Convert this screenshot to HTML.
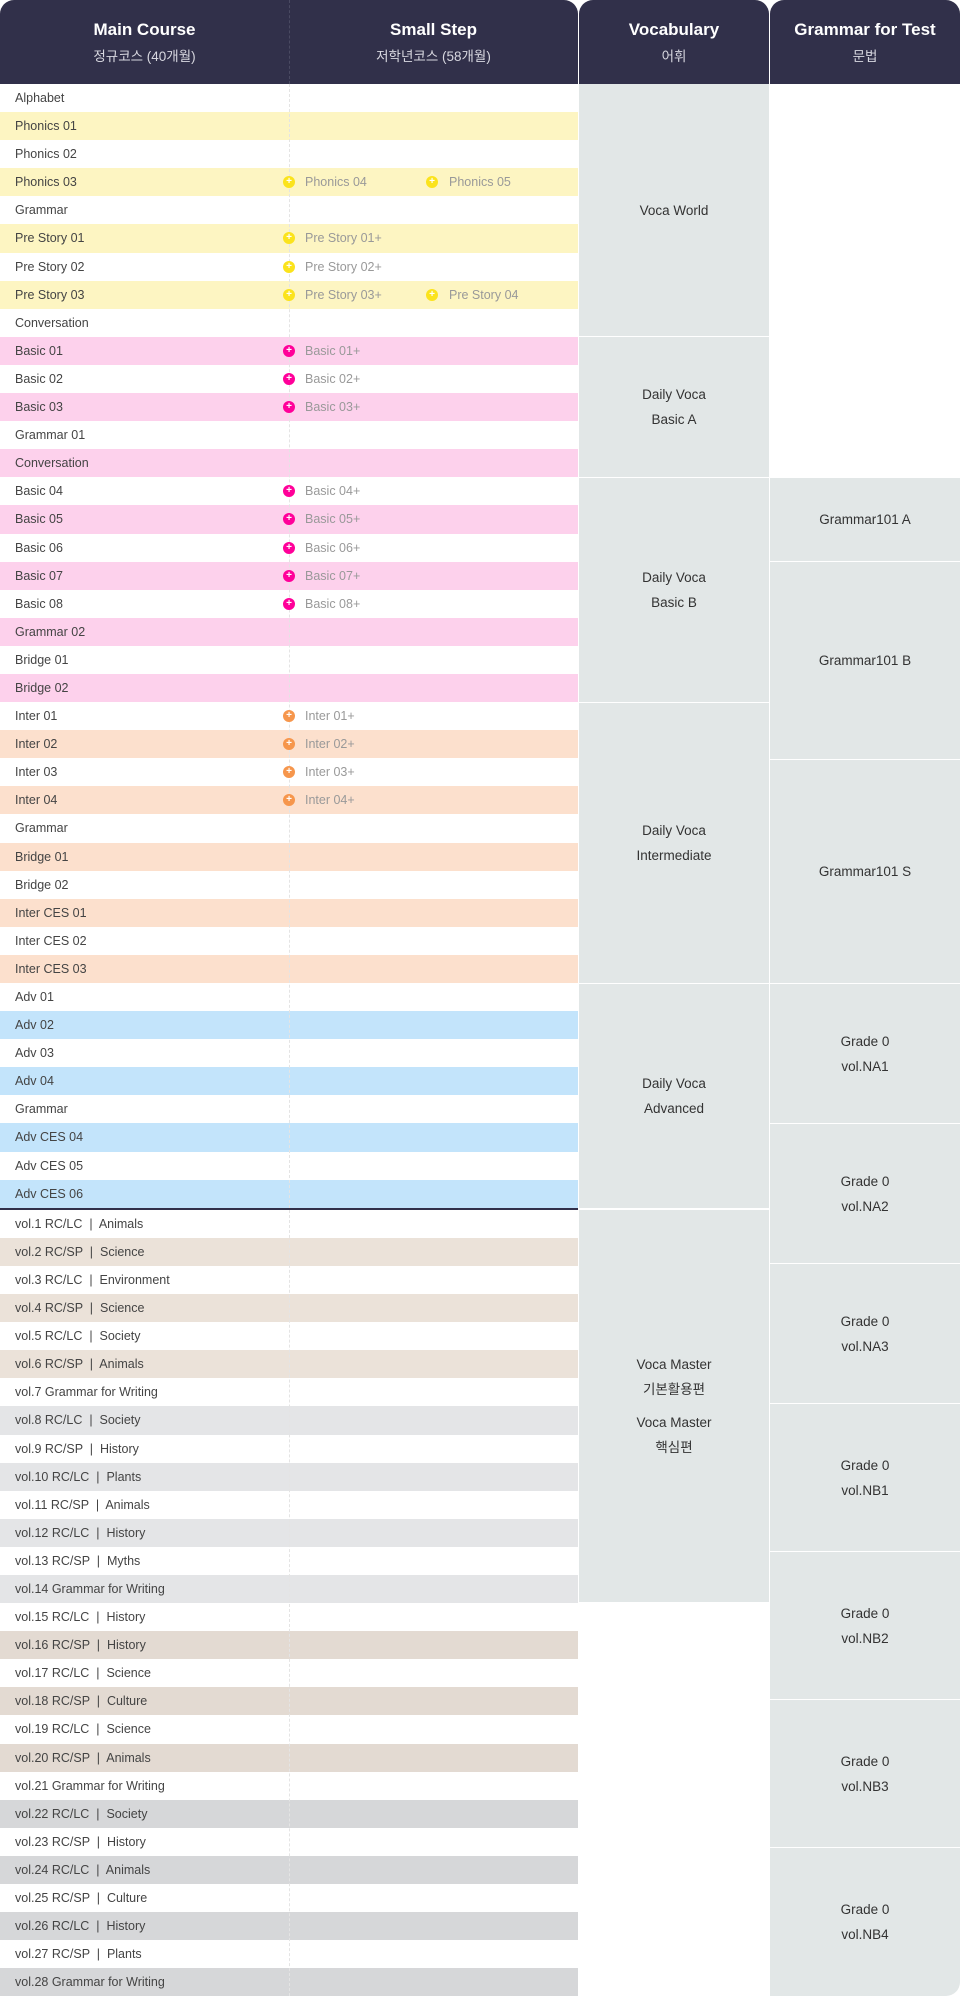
<!DOCTYPE html>
<html><head><meta charset="utf-8">
<style>
*{margin:0;padding:0;box-sizing:border-box}
body{width:960px;height:1996px;position:relative;background:#fff;font-family:"Liberation Sans","Noto Sans CJK KR",sans-serif;overflow:hidden}
.hd{position:absolute;top:0;height:84px;background:#31304a;color:#fff;text-align:center}
.hd b{position:absolute;left:0;right:0;top:20px;font-size:17px;font-weight:bold}
.hd span{position:absolute;left:0;right:0;top:45px;font-size:13.5px;color:#d8d8e0}
#main{position:absolute;left:0;top:84px;width:578px}
.r{height:28.1px;line-height:28.1px;font-size:12.5px;color:#444;padding-left:15px;position:relative;white-space:nowrap}
.s{position:absolute;left:305px;color:#999}
.s2{position:absolute;left:449px;color:#999}
.p{position:absolute;top:8px;width:12px;height:12px;border-radius:50%;color:#fff;font-size:10px;line-height:12px;text-align:center;font-weight:bold;font-style:normal;z-index:3}
.p1{left:283px}.p2{left:426px}
.y{background:#fdf5c2}.pk{background:#fdd1ec}.o{background:#fce0cd}.bl{background:#c3e4fb}.be{background:#ebe2d9}.g{background:#e4e5e7}.be2{background:#e3dad2}.g2{background:#d6d7d9}
.py{background:#fbe31c}.pp{background:#ff0099}.po{background:#f6964c}
.line{height:2px;background:#31304a}
.dash{position:absolute;left:289px;border-left:1px dashed #e4e4e4;z-index:2}
.b{position:absolute;background:#e2e7e7;display:flex;align-items:center;justify-content:center;text-align:center;font-size:13.5px;color:#333;line-height:25px}
.v{left:579px;width:190px}.gr{left:770px;width:190px}
</style></head><body>
<div class="hd" style="left:0;width:578px;border-top-left-radius:14px;border-top-right-radius:14px">
<div style="position:absolute;left:0;width:289px;height:84px"><b>Main Course</b><span>정규코스 (40개월)</span></div>
<div style="position:absolute;left:289px;width:289px;height:84px"><b>Small Step</b><span>저학년코스 (58개월)</span></div>
</div>
<div class="hd" style="left:579px;width:190px;border-top-left-radius:14px;border-top-right-radius:14px"><b>Vocabulary</b><span>어휘</span></div>
<div class="hd" style="left:770px;width:190px;border-top-left-radius:14px;border-top-right-radius:14px"><b>Grammar for Test</b><span>문법</span></div>
<div class="dash" style="top:0;height:84px;border-color:#4a4a62"></div>
<div id="main">
<div class="r">Alphabet</div>
<div class="r y">Phonics 01</div>
<div class="r">Phonics 02</div>
<div class="r y">Phonics 03<i class="p p1 py">+</i><span class="s">Phonics 04</span><i class="p p2 py">+</i><span class="s2">Phonics 05</span></div>
<div class="r">Grammar</div>
<div class="r y">Pre Story 01<i class="p p1 py">+</i><span class="s">Pre Story 01+</span></div>
<div class="r">Pre Story 02<i class="p p1 py">+</i><span class="s">Pre Story 02+</span></div>
<div class="r y">Pre Story 03<i class="p p1 py">+</i><span class="s">Pre Story 03+</span><i class="p p2 py">+</i><span class="s2">Pre Story 04</span></div>
<div class="r">Conversation</div>
<div class="r pk">Basic 01<i class="p p1 pp">+</i><span class="s">Basic 01+</span></div>
<div class="r">Basic 02<i class="p p1 pp">+</i><span class="s">Basic 02+</span></div>
<div class="r pk">Basic 03<i class="p p1 pp">+</i><span class="s">Basic 03+</span></div>
<div class="r">Grammar 01</div>
<div class="r pk">Conversation</div>
<div class="r">Basic 04<i class="p p1 pp">+</i><span class="s">Basic 04+</span></div>
<div class="r pk">Basic 05<i class="p p1 pp">+</i><span class="s">Basic 05+</span></div>
<div class="r">Basic 06<i class="p p1 pp">+</i><span class="s">Basic 06+</span></div>
<div class="r pk">Basic 07<i class="p p1 pp">+</i><span class="s">Basic 07+</span></div>
<div class="r">Basic 08<i class="p p1 pp">+</i><span class="s">Basic 08+</span></div>
<div class="r pk">Grammar 02</div>
<div class="r">Bridge 01</div>
<div class="r pk">Bridge 02</div>
<div class="r">Inter 01<i class="p p1 po">+</i><span class="s">Inter 01+</span></div>
<div class="r o">Inter 02<i class="p p1 po">+</i><span class="s">Inter 02+</span></div>
<div class="r">Inter 03<i class="p p1 po">+</i><span class="s">Inter 03+</span></div>
<div class="r o">Inter 04<i class="p p1 po">+</i><span class="s">Inter 04+</span></div>
<div class="r">Grammar</div>
<div class="r o">Bridge 01</div>
<div class="r">Bridge 02</div>
<div class="r o">Inter CES 01</div>
<div class="r">Inter CES 02</div>
<div class="r o">Inter CES 03</div>
<div class="r">Adv 01</div>
<div class="r bl">Adv 02</div>
<div class="r">Adv 03</div>
<div class="r bl">Adv 04</div>
<div class="r">Grammar</div>
<div class="r bl">Adv CES 04</div>
<div class="r">Adv CES 05</div>
<div class="r bl">Adv CES 06</div>
<div class="line"></div>
<div class="r">vol.1 RC/LC &nbsp;|&nbsp; Animals</div>
<div class="r be">vol.2 RC/SP &nbsp;|&nbsp; Science</div>
<div class="r">vol.3 RC/LC &nbsp;|&nbsp; Environment</div>
<div class="r be">vol.4 RC/SP &nbsp;|&nbsp; Science</div>
<div class="r">vol.5 RC/LC &nbsp;|&nbsp; Society</div>
<div class="r be">vol.6 RC/SP &nbsp;|&nbsp; Animals</div>
<div class="r">vol.7 Grammar for Writing</div>
<div class="r g">vol.8 RC/LC &nbsp;|&nbsp; Society</div>
<div class="r">vol.9 RC/SP &nbsp;|&nbsp; History</div>
<div class="r g">vol.10 RC/LC &nbsp;|&nbsp; Plants</div>
<div class="r">vol.11 RC/SP &nbsp;|&nbsp; Animals</div>
<div class="r g">vol.12 RC/LC &nbsp;|&nbsp; History</div>
<div class="r">vol.13 RC/SP &nbsp;|&nbsp; Myths</div>
<div class="r g">vol.14 Grammar for Writing</div>
<div class="r">vol.15 RC/LC &nbsp;|&nbsp; History</div>
<div class="r be2">vol.16 RC/SP &nbsp;|&nbsp; History</div>
<div class="r">vol.17 RC/LC &nbsp;|&nbsp; Science</div>
<div class="r be2">vol.18 RC/SP &nbsp;|&nbsp; Culture</div>
<div class="r">vol.19 RC/LC &nbsp;|&nbsp; Science</div>
<div class="r be2">vol.20 RC/SP &nbsp;|&nbsp; Animals</div>
<div class="r">vol.21 Grammar for Writing</div>
<div class="r g2">vol.22 RC/LC &nbsp;|&nbsp; Society</div>
<div class="r">vol.23 RC/SP &nbsp;|&nbsp; History</div>
<div class="r g2">vol.24 RC/LC &nbsp;|&nbsp; Animals</div>
<div class="r">vol.25 RC/SP &nbsp;|&nbsp; Culture</div>
<div class="r g2">vol.26 RC/LC &nbsp;|&nbsp; History</div>
<div class="r">vol.27 RC/SP &nbsp;|&nbsp; Plants</div>
<div class="r g2">vol.28 Grammar for Writing</div>
</div>
<div class="dash" style="top:84px;height:1124px"></div>
<div class="dash" style="top:1210px;height:786px"></div>
<div class="b v" style="top:84px;height:252px">Voca World</div>
<div class="b v" style="top:337px;height:140px">Daily Voca<br>Basic A</div>
<div class="b v" style="top:478px;height:224px">Daily Voca<br>Basic B</div>
<div class="b v" style="top:703px;height:280px">Daily Voca<br>Intermediate</div>
<div class="b v" style="top:984px;height:224px">Daily Voca<br>Advanced</div>
<div class="b v" style="top:1210px;height:392px"><div>Voca Master<br>기본활용편<div style="height:8px"></div>Voca Master<br>핵심편</div></div>
<div class="b gr" style="top:478px;height:83px">Grammar101 A</div>
<div class="b gr" style="top:562px;height:197px">Grammar101 B</div>
<div class="b gr" style="top:760px;height:223px">Grammar101 S</div>
<div class="b gr" style="top:984px;height:139px">Grade 0<br>vol.NA1</div>
<div class="b gr" style="top:1124px;height:139px">Grade 0<br>vol.NA2</div>
<div class="b gr" style="top:1264px;height:139px">Grade 0<br>vol.NA3</div>
<div class="b gr" style="top:1404px;height:147px">Grade 0<br>vol.NB1</div>
<div class="b gr" style="top:1552px;height:147px">Grade 0<br>vol.NB2</div>
<div class="b gr" style="top:1700px;height:147px">Grade 0<br>vol.NB3</div>
<div class="b gr" style="top:1848px;height:148px;border-bottom-right-radius:14px">Grade 0<br>vol.NB4</div>
</body></html>
